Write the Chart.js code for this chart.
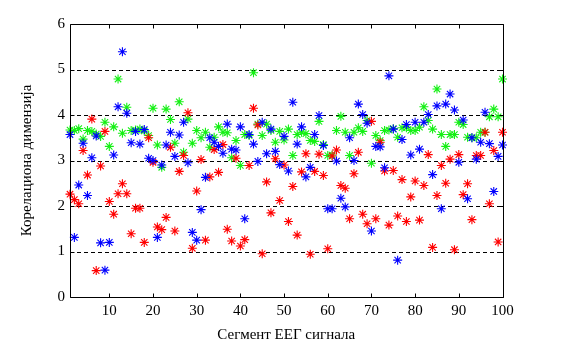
<!DOCTYPE html>
<html><head><meta charset="utf-8">
<script src="https://cdn.jsdelivr.net/npm/chart.js@4/dist/chart.umd.min.js"></script>
<style>html,body{margin:0;padding:0;background:#fff}#wrap{width:562px;height:351px}</style>
</head><body><div id="wrap"><canvas id="c" width="562" height="351"></canvas></div>
<script>
const segments = [1,2,3,4,5,6,7,8,9,10,11,12,13,14,15,16,17,18,19,20,21,22,23,24,25,26,27,28,29,30,31,32,33,34,35,36,37,38,39,40,41,42,43,44,45,46,47,48,49,50,51,52,53,54,55,56,57,58,59,60,61,62,63,64,65,66,67,68,69,70,71,72,73,74,75,76,77,78,79,80,81,82,83,84,85,86,87,88,89,90,91,92,93,94,95,96,97,98,99,100];
const redValues = [2.26,2.14,2.05,3.22,2.68,3.91,0.58,2.88,3.64,2.10,1.82,2.27,2.49,2.27,1.39,1.95,1.95,1.20,3.50,2.96,1.54,1.48,1.75,3.29,1.45,2.76,3.11,4.05,1.07,2.33,3.02,1.25,2.64,3.24,2.74,3.35,1.49,1.23,3.05,1.12,1.26,2.89,4.15,3.78,0.95,2.53,1.85,3.04,2.12,2.90,1.66,2.43,1.36,2.75,3.15,0.94,2.76,3.14,2.67,1.06,3.10,3.23,2.45,2.39,1.72,2.71,3.18,1.82,1.61,3.86,1.72,3.40,2.77,1.58,2.78,1.78,2.58,1.66,2.20,2.55,1.69,2.45,3.13,1.09,2.23,2.89,2.50,3.03,1.04,3.13,2.25,2.49,1.70,3.11,3.11,3.62,2.05,3.22,1.21,3.62];
const greenValues = [3.67,3.66,3.70,3.47,3.66,3.64,3.58,3.53,3.84,3.31,3.74,4.79,3.60,4.17,3.66,3.67,3.69,3.65,3.55,4.15,3.34,2.85,4.13,3.90,3.38,4.29,3.18,3.91,3.38,3.66,3.50,3.62,3.29,3.51,3.74,3.62,3.61,3.06,3.44,2.89,3.57,3.55,4.93,3.80,3.55,3.80,3.66,3.40,3.64,3.45,3.69,3.11,3.57,3.62,3.59,3.44,3.42,3.86,3.35,3.11,3.12,3.66,3.97,3.62,3.11,3.62,3.72,3.64,3.88,2.94,3.55,3.44,3.66,3.67,3.70,3.51,3.72,3.72,3.66,3.66,3.73,4.18,3.88,3.69,4.57,3.57,3.31,3.57,3.57,3.84,3.79,3.51,3.50,3.50,3.62,3.62,3.96,4.13,3.96,4.79];
const blueValues = [3.57,1.31,2.46,3.38,2.23,3.06,3.54,1.19,0.59,1.20,3.12,4.18,5.39,4.04,3.39,3.64,3.36,3.68,3.05,3.00,1.31,2.90,3.34,3.62,3.09,3.56,3.84,2.95,1.42,1.25,1.92,2.63,3.50,3.40,3.31,3.16,3.80,3.25,3.23,3.74,1.72,3.57,3.36,2.98,3.84,3.15,3.69,3.20,2.91,3.53,2.77,4.28,3.36,3.74,2.64,2.85,3.57,3.99,3.33,1.94,1.94,2.99,2.17,1.98,3.50,3.00,4.24,4.01,3.82,1.45,3.31,3.30,2.84,4.86,3.69,0.81,3.46,3.79,3.12,3.84,3.25,3.84,4.01,2.69,4.20,1.94,4.24,4.46,4.11,2.96,3.89,2.16,3.50,3.03,3.40,4.06,3.37,2.32,3.09,3.34];
const xTickValues = [10,20,30,40,50,60,70,80,90,100];
const yTickValues = [0,1,2,3,4,5,6];
const gridValues = [1,2,3,4,5];
const xTitle = 'Сегмент ЕЕГ сигнала';
const yTitle = 'Корелациона димензија';

const FONT = 'Liberation Serif';
function pts(vals){ return segments.map((s,i)=>({x:s,y:vals[i]})); }

const frame = {
  id:'frame',
  beforeDraw(chart){
    const c=chart.ctx; c.save(); c.fillStyle='#fff'; c.fillRect(0,0,chart.width,chart.height); c.restore();
  },
  beforeDatasetsDraw(chart){
    const {ctx, chartArea:a, scales:{y}} = chart;
    ctx.save(); ctx.strokeStyle='#000'; ctx.lineWidth=1; ctx.setLineDash([4,3]);
    gridValues.forEach(v=>{ const py=Math.round(y.getPixelForValue(v))+0.5; ctx.beginPath(); ctx.moveTo(a.left,py); ctx.lineTo(a.right,py); ctx.stroke(); });
    ctx.restore();
  },
  afterDatasetsDraw(chart){
    const {ctx, chartArea:a, scales:{x,y}} = chart;
    ctx.save(); ctx.strokeStyle='#000'; ctx.lineWidth=1; ctx.setLineDash([]);
    const L=Math.round(a.left)+0.5, R=Math.round(a.right)+0.5, T=Math.round(a.top)+0.5, B=Math.round(a.bottom)+0.5;
    ctx.beginPath(); ctx.rect(L,T,R-L,B-T); ctx.stroke();
    const tl=4;
    xTickValues.forEach(v=>{ const px=Math.round(x.getPixelForValue(v))+0.5; ctx.beginPath(); ctx.moveTo(px,B); ctx.lineTo(px,B-tl); ctx.moveTo(px,T); ctx.lineTo(px,T+tl); ctx.stroke(); });
    yTickValues.forEach(v=>{ const py=Math.round(y.getPixelForValue(v))+0.5; ctx.beginPath(); ctx.moveTo(L,py); ctx.lineTo(L+tl,py); ctx.moveTo(R,py); ctx.lineTo(R-tl,py); ctx.stroke(); });
    ctx.restore();
  }
};

function ds(label, vals, color, order){
  return {label, data:pts(vals), pointStyle:'star', pointRadius:4.5, borderColor:color, backgroundColor:color, borderWidth:1, pointBorderWidth:1.1, showLine:false, clip:false, order};
}

new Chart(document.getElementById('c'), {
  type:'scatter',
  data:{ datasets:[
    ds('blue', blueValues, 'rgb(0,0,255)', 0),
    ds('red', redValues, 'rgb(255,0,0)', 1),
    ds('green', greenValues, 'rgb(20,240,20)', 2)
  ]},
  options:{
    responsive:false, animation:false, devicePixelRatio:1,
    layout:{padding:{left:0,right:59.5,top:24,bottom:0}},
    plugins:{legend:{display:false}, tooltip:{enabled:false}},
    scales:{
      x:{ type:'linear', position:'bottom', min:1, max:100,
          afterBuildTicks(ax){ ax.ticks = xTickValues.map(v=>({value:v})); },
          afterFit(ax){ ax.height = 54; },
          grid:{display:false, drawTicks:false}, border:{display:false},
          ticks:{color:'#000', font:{family:FONT,size:15}, padding:5, maxRotation:0, autoSkip:false},
          title:{display:true, text:xTitle, color:'#000', font:{family:FONT,size:15}, padding:{top:0,bottom:7}} },
      y:{ min:0, max:6,
          afterBuildTicks(ax){ ax.ticks = yTickValues.map(v=>({value:v})); },
          afterFit(ax){ ax.width = 70; },
          grid:{display:false, drawTicks:false}, border:{display:false},
          ticks:{color:'#000', font:{family:FONT,size:15}, padding:5},
          title:{display:true, text:yTitle, color:'#000', font:{family:FONT,size:15}, padding:{top:18,bottom:0}} }
    }
  },
  plugins:[frame]
});
</script></body></html>
